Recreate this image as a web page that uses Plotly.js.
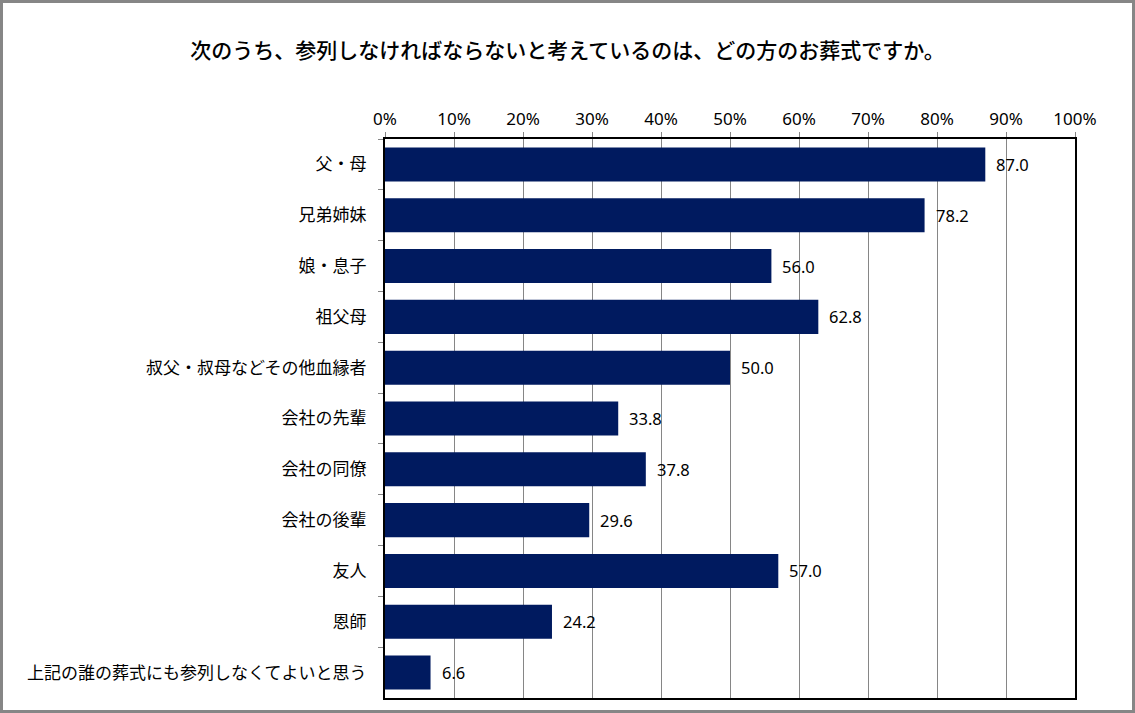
<!DOCTYPE html>
<html><head><meta charset="utf-8">
<script src="https://cdn.plot.ly/plotly-3.0.1.min.js"></script>
<style>html,body{margin:0;padding:0;background:#fff}#wrap{position:relative;width:1135px;height:713px}#chart{width:1135px;height:713px}#frame{position:absolute;left:0;top:0;width:1135px;height:713px;box-sizing:border-box;border:3px solid #868686;pointer-events:none}</style>
</head><body><div id="wrap"><div id="chart"></div><div id="frame"></div></div>
<script>
const titleText = "次のうち、参列しなければならないと考えているのは、どの方のお葬式ですか。";
const categories = ["父・母","兄弟姉妹","娘・息子","祖父母","叔父・叔母などその他血縁者","会社の先輩","会社の同僚","会社の後輩","友人","恩師","上記の誰の葬式にも参列しなくてよいと思う"];
const values = [87.0,78.2,56.0,62.8,50.0,33.8,37.8,29.6,57.0,24.2,6.6];
const tickVals = [0,10,20,30,40,50,60,70,80,90,100];
const tickText = tickVals.map(v => v + "%");

const font = "'Noto Sans CJK JP', 'Noto Sans', sans-serif";
const numFont = "'Noto Sans', sans-serif";
const trace = {
  type: "bar", orientation: "h",
  x: values, y: categories,
  marker: {color: "#001a5f"},
  hoverinfo: "none"
};
const annotations = values.map((v, i) => ({
  x: v, y: categories[i], xref: "x", yref: "y",
  text: v.toFixed(1), showarrow: false, xanchor: "left", xshift: 9,
  font: {family: numFont, size: 16.5, color: "#000"}
}));
const layout = {
  width: 1135, height: 713,
  margin: {l: 385, r: 60, t: 139, b: 15},
  paper_bgcolor: "#fff", plot_bgcolor: "#fff",
  showlegend: false,
  bargap: 0.33,
  annotations: annotations,
  title: {text: titleText, x: 0.5, xanchor: "center", y: 0.929, yanchor: "middle", font: {family: font, size: 21, color: "#000", weight: 500}},
  xaxis: {side: "top", range: [0, 100], tickvals: tickVals, ticktext: tickText,
    showgrid: true, gridcolor: "#868686", gridwidth: 1,
    ticks: "outside", ticklen: 5, tickcolor: "#868686",
    tickfont: {family: numFont, size: 17, color: "#000"},
    showline: true, linecolor: "#000", linewidth: 2, mirror: true, zeroline: false, fixedrange: true},
  yaxis: {type: "category", autorange: "reversed",
    ticks: "outside", tickson: "boundaries", ticklen: 5, tickcolor: "#868686",
    tickfont: {family: font, size: 17, color: "#000"},
    showline: true, linecolor: "#000", linewidth: 2, mirror: true, showgrid: false, fixedrange: true, ticklabelstandoff: 13}
};
Plotly.newPlot("chart", [trace], layout, {displayModeBar: false, staticPlot: true});
</script></body></html>
